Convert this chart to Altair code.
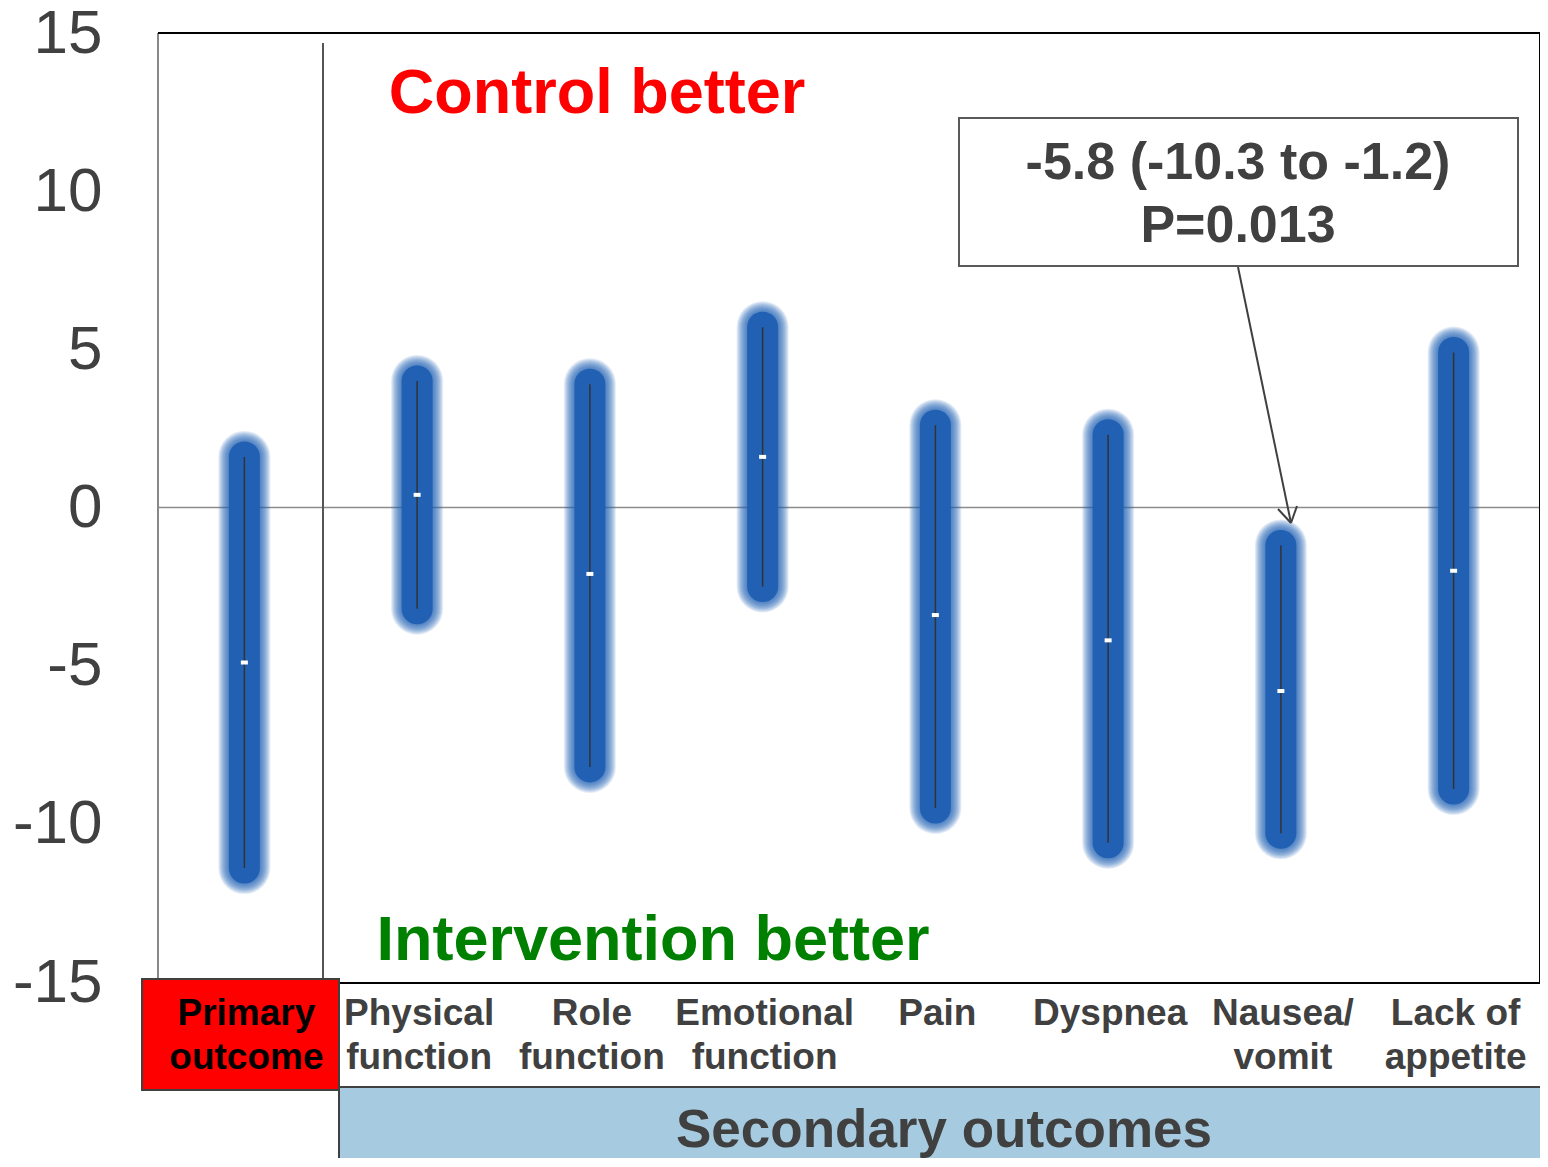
import altair as alt
import pandas as pd

# ---- data ----
categories = ["Primary outcome", "Physical function", "Role function", "Emotional function",
              "Pain", "Dyspnea", "Nausea/ vomit", "Lack of appetite"]
label_line1 = ["Primary", "Physical", "Role", "Emotional", "Pain", "Dyspnea", "Nausea/", "Lack of"]
label_line2 = ["outcome", "function", "function", "function", "", "", "vomit", "appetite"]
means = [-4.9, 0.4, -2.1, 1.6, -3.4, -4.2, -5.8, -2.0]
lower = [-11.4, -3.2, -8.2, -2.5, -9.5, -10.6, -10.3, -8.9]
upper = [1.6, 4.0, 3.9, 5.7, 2.6, 2.3, -1.2, 4.9]
y_ticks = [-15, -10, -5, 0, 5, 10, 15]

df = pd.DataFrame({"cat": categories, "l1": label_line1, "l2": label_line2,
                   "mean": means, "lo": lower, "hi": upper})

FONT = "Liberation Sans"
GREY = "#404040"
BLUE = "#2160b2"
W, H = 1382, 949

xenc = alt.X("cat:N", sort=categories,
             scale=alt.Scale(domain=categories, paddingInner=0, paddingOuter=0), axis=None)
yscale = alt.Scale(domain=[-15, 15], nice=False, zero=False)
yaxis = alt.Axis(values=y_ticks, labelFontSize=62, labelColor=GREY, labelFont=FONT,
                 labelExpr="'' + datum.value",
                 ticks=False, domain=False, grid=False, title=None, labelPadding=56,
                 labelFlush=False, labelOverlap=False)

base = alt.Chart(df)
one = pd.DataFrame({"k": [0]})


def deco():
    return alt.Chart(one)


layers = []

# zero line
layers.append(alt.Chart(pd.DataFrame({"y": [0]})).mark_rule(color="#8c8c8c", strokeWidth=1.5)
              .encode(y=alt.Y("y:Q", scale=yscale, axis=yaxis)))

# frame
layers.append(deco().mark_rule(color="#888888", strokeWidth=2).encode(
    x=alt.value(0), y=alt.value(0), y2=alt.value(H)))
layers.append(deco().mark_rule(color="black", strokeWidth=2).encode(
    x=alt.value(0), x2=alt.value(W), y=alt.value(0)))
layers.append(deco().mark_rule(color="black", strokeWidth=2).encode(
    x=alt.value(W), y=alt.value(0), y2=alt.value(H)))
layers.append(deco().mark_rule(color="#555555", strokeWidth=2).encode(
    x=alt.value(165), y=alt.value(10), y2=alt.value(H)))

# soft glow layers of the CI bars
for w in [52, 50, 48, 46, 44, 42, 40, 38, 36, 34, 32]:
    layers.append(base.mark_rule(strokeWidth=w, strokeCap="round", color=BLUE, opacity=0.12)
                  .encode(x=xenc, y=alt.Y("lo:Q", scale=yscale, axis=yaxis), y2="hi:Q"))
layers.append(base.mark_rule(strokeWidth=31, strokeCap="round", color=BLUE)
              .encode(x=xenc, y=alt.Y("lo:Q", scale=yscale, axis=yaxis), y2="hi:Q"))
layers.append(base.mark_rule(strokeWidth=1.5, color="#333333")
              .encode(x=xenc, y=alt.Y("lo:Q", scale=yscale, axis=yaxis), y2="hi:Q"))
layers.append(base.mark_tick(color="white", thickness=4, size=7, opacity=1)
              .encode(x=xenc, y=alt.Y("mean:Q", scale=yscale, axis=yaxis)))

# headline texts
layers.append(deco().mark_text(text="Control better", font=FONT, fontSize=63, fontWeight="bold",
                               color="#ff0000", align="center", baseline="middle")
              .encode(x=alt.value(439), y=alt.value(61)))
layers.append(deco().mark_text(text="Intervention better", font=FONT, fontSize=63, fontWeight="bold",
                               color="#008000", align="center", baseline="middle")
              .encode(x=alt.value(495), y=alt.value(908)))

# annotation box and arrow
layers.append(deco().mark_rect(fill="white", stroke="#595959", strokeWidth=2).encode(
    x=alt.value(801), x2=alt.value(1360), y=alt.value(85), y2=alt.value(233)))
layers.append(deco().mark_text(text="-5.8 (-10.3 to -1.2)", font=FONT, fontSize=52, fontWeight="bold",
                               color=GREY, align="center", baseline="middle")
              .encode(x=alt.value(1080), y=alt.value(130)))
layers.append(deco().mark_text(text="P=0.013", font=FONT, fontSize=52, fontWeight="bold",
                               color=GREY, align="center", baseline="middle")
              .encode(x=alt.value(1080), y=alt.value(193)))
for (x1, y1, x2, y2) in [(1080, 234, 1133, 490), (1120, 476, 1133, 490), (1139, 473, 1133, 490)]:
    layers.append(deco().mark_rule(color=GREY, strokeWidth=2).encode(
        x=alt.value(x1), y=alt.value(y1), x2=alt.value(x2), y2=alt.value(y2)))

# bottom boxes
layers.append(deco().mark_rule(color="black", strokeWidth=2).encode(
    x=alt.value(181), x2=alt.value(W), y=alt.value(H + 1)))
layers.append(deco().mark_rect(fill="#ff0000", stroke="#404040", strokeWidth=2).encode(
    x=alt.value(-16), x2=alt.value(181), y=alt.value(946), y2=alt.value(1057)))
layers.append(deco().mark_rect(fill="#a6cbe0", stroke="#404040", strokeWidth=2).encode(
    x=alt.value(181), x2=alt.value(W + 4), y=alt.value(1054), y2=alt.value(1140)))
layers.append(deco().mark_text(text="Secondary outcomes", font=FONT, fontSize=53, fontWeight="bold",
                               color=GREY, align="center", baseline="middle")
              .encode(x=alt.value(786), y=alt.value(1098)))

# category labels
lab_color = alt.condition(alt.datum.cat == "Primary outcome", alt.value("black"), alt.value(GREY))
layers.append(base.mark_text(font=FONT, fontSize=37, fontWeight="bold", align="center", baseline="middle",
                             dx=2)
              .encode(x=xenc, y=alt.value(981), text="l1:N", color=lab_color))
layers.append(base.mark_text(font=FONT, fontSize=37, fontWeight="bold", align="center", baseline="middle",
                             dx=2)
              .encode(x=xenc, y=alt.value(1025), text="l2:N", color=lab_color))

chart = alt.layer(*layers).properties(
    width=W, height=H,
    autosize=alt.AutoSizeParams(type="none"),
    padding={"left": 150, "top": 25, "right": 0, "bottom": 176},
).configure_view(stroke=None).configure(background="white")

chart.save("out.html", embed_options={"renderer": "svg", "actions": False})
